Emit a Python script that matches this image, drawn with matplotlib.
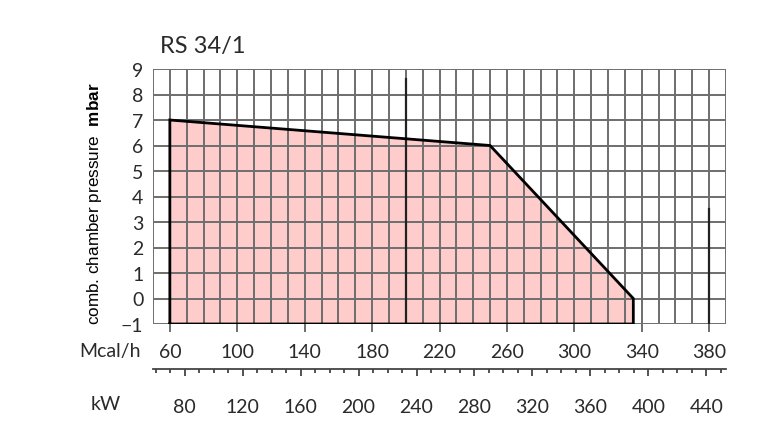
import matplotlib
matplotlib.use("Agg")
import matplotlib.pyplot as plt
import numpy as np

# ---- data ----
title = "RS 34/1"
mcal_ticks = [60, 100, 140, 180, 220, 260, 300, 340, 380]
kw_ticks = [80, 120, 160, 200, 240, 280, 320, 360, 400, 440]
y_ticks = [-1, 0, 1, 2, 3, 4, 5, 6, 7, 8, 9]
# working field outline (Mcal/h, mbar)
field_x = [60, 60, 250, 335, 335]
field_y = [-1, 7, 6, 0, -1]
# darker drawing lines present on the original grid (x, y_top)
dark_x = [200, 380]
dark_ytop = [8.6, 3.5]
KW_PER_MCAL = 1.163

plt.rcParams['mathtext.fontset'] = 'custom'
plt.rcParams['mathtext.rm'] = 'Liberation Sans'
plt.rcParams['mathtext.bf'] = 'Liberation Sans:bold'

txt_col = '#2a2a2a'
thin = dict(family=['Lato', 'DejaVu Sans'], weight='normal', color=txt_col)

fig = plt.figure(figsize=(7.67, 4.35), dpi=100)
ax = fig.add_axes([153/767, 1-325/435, (726-153)/767, (325-70)/435])

ax.set_xlim(50, 390)
ax.set_ylim(-1, 9)

grid_col = '#6e6e6e'
for x in np.arange(50, 391, 10):
    ax.axvline(x, color=grid_col, lw=1.4, zorder=1)
for y in y_ticks:
    ax.axhline(y, color=grid_col, lw=1.4, zorder=1)
for sp in ax.spines.values():
    sp.set_visible(False)

ax.fill(field_x, field_y, facecolor='#ffcccc', edgecolor='none', zorder=0)
ax.plot(field_x + [field_x[0]], field_y + [field_y[0]], color='black', lw=2.0, zorder=3,
        solid_joinstyle='miter')

for x, yt in zip(dark_x, dark_ytop):
    ax.plot([x, x], [-1, yt], color='#222222', lw=1.6, zorder=2)

ax.set_yticks(y_ticks)
ax.set_yticklabels(['\u22121' if v == -1 else str(v) for v in y_ticks], **thin)
ax.tick_params(axis='y', length=0, pad=7, labelsize=14)

ax.set_xticks(mcal_ticks)
ax.set_xticklabels([str(v) for v in mcal_ticks], **thin)
ax.tick_params(axis='x', length=6, width=1.4, color=grid_col, pad=8, labelsize=14,
               direction='out')

sec = ax.secondary_xaxis(-0.176, functions=(lambda m: m*KW_PER_MCAL, lambda k: k/KW_PER_MCAL))
sec.set_xticks(kw_ticks)
sec.set_xticklabels([str(v) for v in kw_ticks], **thin)
sec.xaxis.set_minor_locator(matplotlib.ticker.MultipleLocator(10))
sec.tick_params(axis='x', which='major', length=5, width=1.3, color='#444444', pad=16, labelsize=14)
sec.tick_params(axis='x', which='minor', length=3, width=1.3, color='#444444')
sec.spines['bottom'].set_color('#444444')
sec.spines['bottom'].set_linewidth(1.3)

fig.text(160/767, 1-47/435, title, fontsize=17, va='center', ha='left', **thin)
fig.text(141/767, 1-352/435, 'Mcal/h', fontsize=14, va='center', ha='right', **thin)
fig.text(121/767, 1-405/435, 'kW', fontsize=14, va='center', ha='right', **thin)
fig.text(95/767, 1-(322+85)/2/435, r'comb. chamber pressure  $\mathbf{mbar}$',
         rotation=90, fontsize=12.3, va='center', ha='center', family='Liberation Sans',
         color='black')

fig.savefig('out.png', dpi=100)
